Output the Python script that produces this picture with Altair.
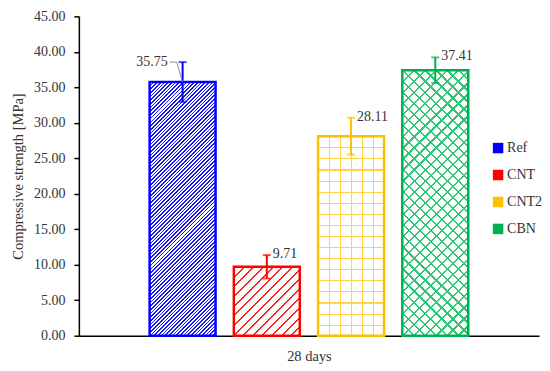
import math
import altair as alt
import pandas as pd

series = ["Ref", "CNT", "CNT2", "CBN"]
values = [35.75, 9.71, 28.11, 37.41]
errors = [2.8, 1.65, 2.6, 1.8]
colors = ["#0000ff", "#ff0000", "#ffc000", "#00b050"]
y_ticks = [0, 5, 10, 15, 20, 25, 30, 35, 40, 45]

df = pd.DataFrame({
    "series": series,
    "value": values,
    "lo": [v - e for v, e in zip(values, errors)],
    "hi": [v + e for v, e in zip(values, errors)],
    "label": [f"{v:.2f}" for v in values],
})

FONT = "Liberation Serif"
TXT = "#333333"
YTITLE = "Compressive strength [MPa]"
W, H = 461, 320
P_IN, P_OUT = 0.217, 0.84
step = W / (len(series) - P_IN + 2 * P_OUT)
bar_w = step * (1 - P_IN)


def stops(color, bg, n, frac):
    out = []
    for i in range(n):
        a, b, c = i / n, (i + frac) / n, (i + 1) / n
        out += [{"offset": a, "color": color}, {"offset": b, "color": color},
                {"offset": b, "color": bg}, {"offset": c, "color": bg}]
    return out


def grad(kind, color, bg, w, h, p, frac):
    if kind in ("/", "\\"):
        a = (w + h) / (w * w + h * h)
        n = max(1, round((w + h) / math.sqrt(2) / p))
        if kind == "/":
            x1, y1, x2, y2 = 0, 0, a * w, a * h
        else:
            x1, y1, x2, y2 = 0, 1, a * w, 1 - a * h
    elif kind == "-":
        n = max(1, round(h / p))
        x1, y1, x2, y2 = 0, 0, 0, 1
    else:
        n = max(1, round(w / p))
        x1, y1, x2, y2 = 0, 0, 1, 0
    return {"gradient": "linear", "x1": x1, "y1": y1, "x2": x2, "y2": y2,
            "stops": stops(color, bg, n, frac)}


patterns = {
    "Ref": [("/", "#1a1aff", 2.6, 0.45)],
    "CNT": [("/", "#ff2020", 7.0, 0.2)],
    "CNT2": [("-", "#ffd24a", 11.0, 0.1), ("|", "#ffd24a", 11.0, 0.1)],
    "CBN": [("/", "#30c878", 7.8, 0.2), ("\\", "#30c878", 7.8, 0.2)],
}

xenc = alt.X("series:N", sort=series,
             scale=alt.Scale(domain=series, paddingInner=P_IN, paddingOuter=P_OUT),
             axis=alt.Axis(title="28 days", labels=False, ticks=False))
cscale = alt.Scale(domain=series, range=colors)
base = alt.Chart(df).encode(x=xenc)


def yq(field):
    return alt.Y(field, title=YTITLE, scale=alt.Scale(domain=[0, 45], nice=False),
                 axis=alt.Axis(values=y_ticks, format=".2f", labelOverlap=False))


def cnone():
    return alt.Color("series:N", sort=series, scale=cscale, legend=None)


layers = [
    base.mark_bar().encode(
        y=yq("value:Q"),
        color=alt.Color("series:N", sort=series, scale=cscale,
                        legend=alt.Legend(title=None, orient="none", legendX=413, legendY=125,
                                          symbolType="square", symbolSize=110,
                                          symbolStrokeWidth=0, rowPadding=13,
                                          labelFont=FONT, labelFontSize=14, labelOffset=2,
                                          labelColor=TXT, padding=0))),
]

for s, v in zip(series, values):
    h = v * H / 45
    for j, (kind, col, p, frac) in enumerate(patterns[s]):
        bg = "#ffffff" if j == 0 else "rgba(255,255,255,0)"
        layers.append(
            base.transform_filter(alt.datum.series == s)
            .mark_bar(fill=grad(kind, col, bg, bar_w, h, p, frac))
            .encode(y=yq("value:Q"))
        )

layers += [
    base.mark_bar(fillOpacity=0, strokeWidth=2.5).encode(
        y=yq("value:Q"),
        stroke=alt.Stroke("series:N", sort=series, scale=cscale, legend=None)),
    base.mark_rule(strokeWidth=2).encode(y=yq("lo:Q"), y2="hi:Q", color=cnone()),
    base.mark_tick(thickness=2, size=8).encode(y=yq("hi:Q"), color=cnone()),
    base.mark_tick(thickness=2, size=8).encode(y=yq("lo:Q"), color=cnone()),
    base.transform_filter(alt.datum.series == "Ref")
    .mark_rule(color="#8c8c8c", strokeWidth=1, xOffset=-6, x2Offset=0)
    .encode(x2="series:N", y=yq("hi:Q"), y2="value:Q"),
    base.transform_filter(alt.datum.series == "Ref")
    .mark_rule(color="#8c8c8c", strokeWidth=1, xOffset=-13, x2Offset=-6)
    .encode(x2="series:N", y=yq("hi:Q")),
    base.transform_filter(alt.datum.series == "Ref")
    .mark_text(align="right", dx=-15, baseline="middle", font=FONT, fontSize=14, color=TXT)
    .encode(y=yq("hi:Q"), text="label:N"),
    base.transform_filter(alt.datum.series != "Ref")
    .mark_text(align="left", dx=6, dy=-1, baseline="middle", font=FONT, fontSize=14, color=TXT)
    .encode(y=yq("hi:Q"), text="label:N"),
]

chart = alt.layer(*layers).properties(
    width=W, height=H, padding={"left": 2, "top": 1, "right": 0, "bottom": 0}
).configure_view(stroke=None).configure_axis(
    labelFont=FONT, labelFontSize=14, labelColor=TXT,
    titleFont=FONT, titleFontSize=14.5, titleColor=TXT, titleFontWeight="normal",
    domainColor="#000000", domainWidth=1.5, tickColor="#000000", tickSize=5, tickWidth=1.5,
    grid=False,
).configure_axisY(labelPadding=9, titlePadding=8).configure_axisX(titlePadding=14)

chart.save("out.html", embed_options={"renderer": "svg", "actions": False})
